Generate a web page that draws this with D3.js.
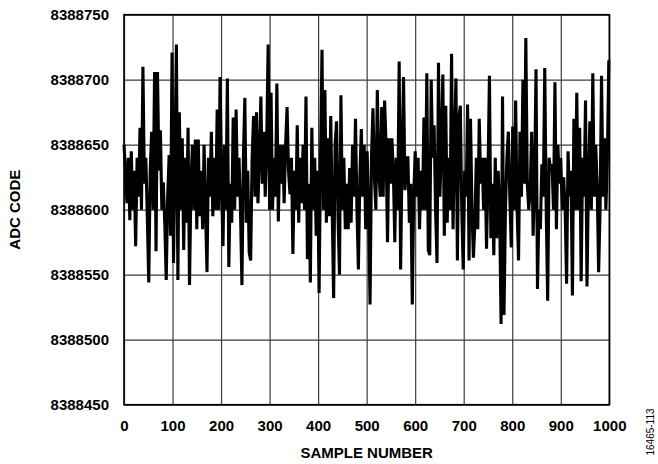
<!DOCTYPE html>
<html><head><meta charset="utf-8">
<script src="https://cdn.jsdelivr.net/npm/d3@7/dist/d3.min.js"></script>
<style>
body{margin:0;background:#fff}
svg{display:block}
text{font-family:"Liberation Sans",Arial,Helvetica,sans-serif}
</style>
</head><body>
<svg id="chart" width="658" height="464"></svg>
<script>
// ADC output codes, one every 3 samples (sample 0 .. 999)
const sampleStep = 3;
const adcCodes = [
8388650,8388630,8388605,8388640,8388592,8388645,8388600,8388630,8388572,8388640,
8388610,8388663,8388600,8388710,8388620,8388640,8388595,8388544,8388630,8388660,
8388600,8388706,8388568,8388706,8388630,8388661,8388600,8388621,8388590,8388546,
8388610,8388642,8388580,8388721,8388559,8388640,8388727,8388546,8388675,8388600,
8388655,8388569,8388640,8388590,8388663,8388542,8388620,8388650,8388600,8388654,
8388585,8388654,8388595,8388630,8388585,8388650,8388600,8388552,8388640,8388610,
8388660,8388595,8388640,8388600,8388677,8388600,8388702,8388620,8388572,8388650,
8388600,8388701,8388556,8388620,8388590,8388671,8388600,8388677,8388610,8388640,
8388600,8388542,8388640,8388686,8388590,8388630,8388567,8388561,8388640,8388672,
8388610,8388675,8388605,8388640,8388687,8388620,8388660,8388610,8388650,8388727,
8388600,8388690,8388600,8388640,8388610,8388697,8388591,8388650,8388620,8388650,
8388605,8388650,8388679,8388630,8388612,8388640,8388566,8388630,8388600,8388665,
8388590,8388640,8388605,8388650,8388600,8388687,8388562,8388620,8388544,8388663,
8388600,8388640,8388580,8388630,8388536,8388640,8388723,8388600,8388692,8388590,
8388655,8388595,8388672,8388600,8388532,8388650,8388668,8388595,8388550,8388688,
8388600,8388640,8388585,8388620,8388585,8388632,8388590,8388650,8388610,8388670,
8388600,8388554,8388625,8388662,8388610,8388650,8388585,8388645,8388600,8388527,
8388640,8388678,8388625,8388600,8388692,8388630,8388610,8388679,8388610,8388684,
8388650,8388575,8388655,8388620,8388655,8388630,8388575,8388640,8388600,8388714,
8388554,8388640,8388702,8388615,8388640,8388640,8388590,8388620,8388527,8388610,
8388645,8388610,8388640,8388585,8388630,8388600,8388671,8388600,8388705,8388569,
8388565,8388700,8388640,8388665,8388600,8388559,8388713,8388610,8388650,8388704,
8388580,8388680,8388590,8388640,8388600,8388720,8388585,8388650,8388701,8388561,
8388670,8388680,8388600,8388554,8388630,8388610,8388681,8388561,8388670,8388600,
8388563,8388590,8388640,8388585,8388670,8388620,8388640,8388600,8388640,8388570,
8388625,8388703,8388578,8388620,8388565,8388640,8388578,8388630,8388600,8388512,
8388687,8388519,8388600,8388640,8388660,8388610,8388571,8388664,8388600,8388684,
8388600,8388561,8388660,8388610,8388700,8388620,8388732,8388620,8388600,8388615,
8388660,8388580,8388620,8388708,8388539,8388600,8388585,8388635,8388610,8388709,
8388600,8388530,8388640,8388630,8388635,8388600,8388698,8388585,8388650,8388620,
8388640,8388600,8388625,8388600,8388543,8388645,8388610,8388630,8388534,8388670,
8388600,8388690,8388600,8388663,8388545,8388640,8388610,8388684,8388541,8388620,
8388668,8388600,8388705,8388610,8388650,8388620,8388552,8388600,8388703,8388610,
8388655,8388600,8388640,8388715
];
const xTicks = [0,100,200,300,400,500,600,700,800,900,1000];
const yTicks = [8388450,8388500,8388550,8388600,8388650,8388700,8388750];
const xTitle = "SAMPLE NUMBER";
const yTitle = "ADC CODE";
const figId = "16465-113";

const svg = d3.select("#chart");
const margin = {left:124, top:14.7, right:658-609.3, bottom:464-404.7};
const w = 658 - margin.left - margin.right;
const h = 464 - margin.top - margin.bottom;
const g = svg.append("g").attr("transform", `translate(${margin.left},${margin.top})`);

const x = d3.scaleLinear().domain([0,1000]).range([0,w]);
const y = d3.scaleLinear().domain([8388450,8388750]).range([h,0]);

// grid lines
const gx = g.append("g").attr("transform",`translate(0,${h})`)
  .call(d3.axisBottom(x).tickValues(xTicks).tickSize(-h).tickFormat(""));
const gy = g.append("g")
  .call(d3.axisLeft(y).tickValues(yTicks).tickSize(-w).tickFormat(""));
[gx,gy].forEach(a=>{
  a.select(".domain").remove();
  a.selectAll("line").attr("stroke","#3c3c3c").attr("stroke-width",1.2);
});

// data line
const line = d3.line()
  .x((d,i)=>x(i*sampleStep))
  .y(d=>y(d));
g.append("path").datum(adcCodes)
  .attr("fill","none").attr("stroke","#000")
  .attr("stroke-width",3.1).attr("stroke-linejoin","miter")
  .attr("d",line);

// frame
g.append("rect").attr("x",0).attr("y",0).attr("width",w).attr("height",h)
  .attr("fill","none").attr("stroke","#000").attr("stroke-width",1.6);

// tick labels
const lx = g.append("g").attr("transform",`translate(0,${h})`)
  .call(d3.axisBottom(x).tickValues(xTicks).tickSize(0).tickPadding(16).tickFormat(d3.format("d")));
const ly = g.append("g")
  .call(d3.axisLeft(y).tickValues(yTicks).tickSize(0).tickPadding(15).tickFormat(d3.format("d")));
[lx,ly].forEach(a=>{
  a.select(".domain").remove();
  a.selectAll("text").attr("font-family",'"Liberation Sans",Arial,sans-serif')
   .attr("font-size",15).attr("font-weight","bold").attr("fill","#000");
});

// titles
svg.append("text").attr("x",margin.left+w/2).attr("y",458)
  .attr("text-anchor","middle").attr("font-size",15).attr("font-weight","bold")
  .text(xTitle);
svg.append("text").attr("transform",`translate(19.5,${margin.top+h/2}) rotate(-90)`)
  .attr("text-anchor","middle").attr("font-size",15).attr("font-weight","bold")
  .text(yTitle);
svg.append("text").attr("transform",`translate(653.5,432) rotate(-90)`)
  .attr("text-anchor","middle").attr("font-size",10)
  .text(figId);
</script>
</body></html>
